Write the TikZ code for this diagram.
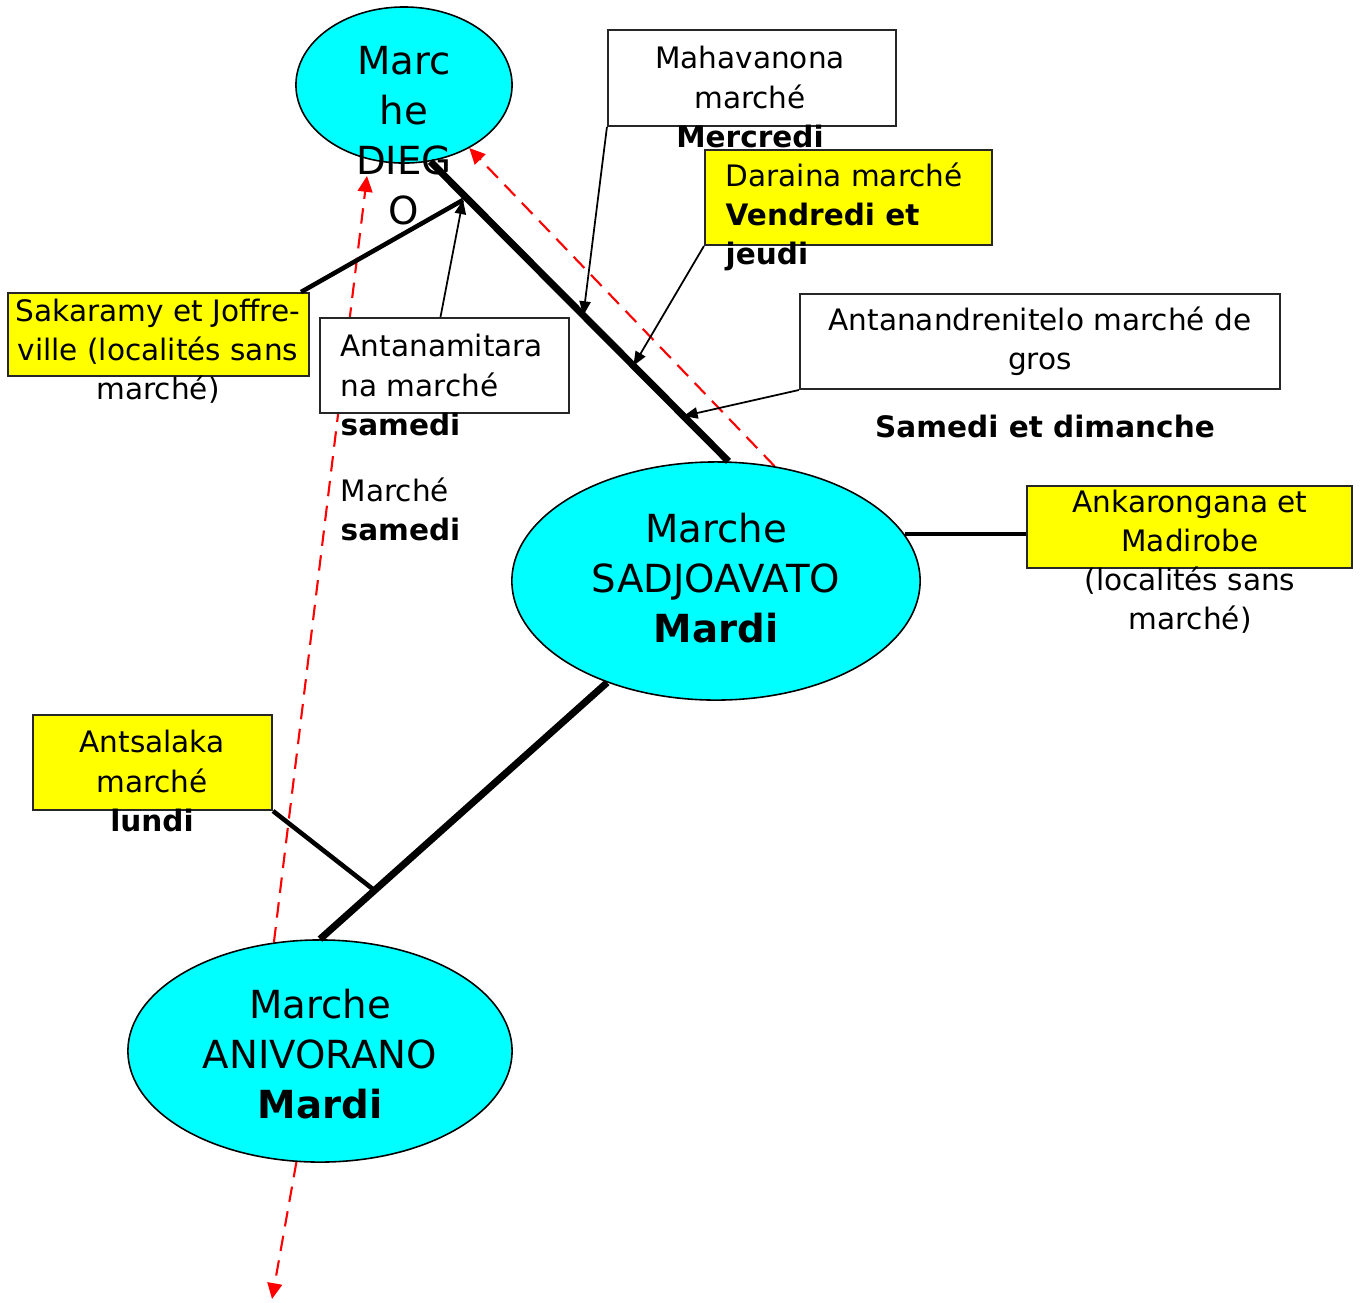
\documentclass[tikz,border=0pt]{standalone}
\usepackage{fontspec}
\setmainfont{DejaVu Sans}
\usetikzlibrary{arrows.meta,calc,shapes.geometric}
\definecolor{mktcyan}{HTML}{00FFFF}
\definecolor{tagyellow}{HTML}{FFFF00}
\definecolor{tripred}{HTML}{FF0000}
\pgfdeclarelayer{bg}
\pgfsetlayers{bg,main}

\begin{document}
\begin{tikzpicture}[
  x=0.01cm, y=-0.01cm,
  mkt/.style={ellipse, draw=black, fill=mktcyan, line width=0.45pt, inner sep=0},
  mtxt/.style={font=\fontsize{11}{14.2}\selectfont, align=center, inner sep=0},
  wbox/.style={rectangle, draw=black!85, fill=white, line width=0.55pt, inner sep=0},
  ybox/.style={wbox, fill=tagyellow},
  btxt/.style={font=\fontsize{8.4}{11.1}\selectfont, align=center, inner sep=0},
  road/.style={line width=2pt},
  spur/.style={line width=1.3pt},
  ptr/.style={-{Triangle[length=4pt, width=3.2pt]}, line width=0.5pt},
  trip/.style={-{Triangle[length=4.5pt, width=4.2pt]}, tripred, line width=0.6pt,
               dash pattern=on 4.4pt off 2.7pt},
]
\useasboundingbox (0,0) rectangle (1363,1302);

% ---- markets ----
\node[mkt, minimum width=2.16cm, minimum height=1.56cm] (diego) at (404,85) {};
\node[mkt, minimum width=4.08cm, minimum height=2.38cm] (sadj) at (716,581) {};
\node[mkt, minimum width=3.84cm, minimum height=2.22cm] (aniv) at (320,1051) {};
\node[mtxt] (diegotxt) at (404,136) {Marc\\he\\DIEG\\O};
\node[mtxt] (sadjtxt) at (716,578) {Marche\\SADJOAVATO\\\textbf{Mardi}};
\node[mtxt] (anivtxt) at (320,1054) {Marche\\ANIVORANO\\\textbf{Mardi}};

% ---- localities ----
\node[wbox, minimum width=2.88cm, minimum height=0.96cm] (maha) at (752,78) {};
\node[btxt] (mahatxt) at (750,97) {Mahavanona\\marché\\\textbf{Mercredi}};
\node[ybox, minimum width=2.87cm, minimum height=0.95cm] (dara) at (848.5,197.5) {};
\node[btxt, align=left, anchor=west] (daratxt) at (725,217) {Daraina marché\\\textbf{Vendredi et}\\\textbf{jeudi}};
\node[wbox, minimum width=4.80cm, minimum height=0.95cm] (gros) at (1040,341.5) {};
\node[btxt] (grostxt) at (1040,341) {Antanandrenitelo marché de\\gros};
\node[btxt, font=\fontsize{8.4}{11.1}\selectfont\bfseries] (grosday) at (1045,426) {Samedi et dimanche};
\node[ybox, minimum width=3.01cm, minimum height=0.83cm] (sak) at (158.5,334.5) {};
\node[btxt] (saktxt) at (158,351) {Sakaramy et Joffre-\\ville (localités sans\\marché)};
\node[wbox, minimum width=2.49cm, minimum height=0.95cm] (anta) at (444.5,365.5) {};
\node[btxt, align=left, anchor=west] (antatxt) at (340,385) {Antanamitara\\na marché\\\textbf{samedi}};
\node[btxt, align=left, anchor=west] (sattxt) at (340,509) {Marché\\\textbf{samedi}};
\node[ybox, minimum width=3.25cm, minimum height=0.82cm] (ank) at (1189.5,527) {};
\node[btxt] (anktxt) at (1190,562) {Ankarongana et\\Madirobe\\(localités sans\\marché)};
\node[ybox, minimum width=2.39cm, minimum height=0.95cm] (ants) at (152.5,762.5) {};
\node[btxt] (antstxt) at (152,781) {Antsalaka\\marché\\\textbf{lundi}};

% ---- roads ----
\coordinate (hub) at (463,200);
\draw[road] (diego.-71) -- (sadj.84);
\draw[road] (sadj.-137) -- (aniv.north);
\draw[spur] ([xshift=-0.09cm]sak.north east) -- (hub);
\draw[ptr] ([xshift=-0.04cm]anta.north) -- (hub);
\draw[ptr] (maha.south west) -- ($(diego.-71)!0.513!(sadj.84)$);
\draw[ptr] (dara.south west) -- ($(diego.-71)!0.681!(sadj.84)$);
\draw[ptr] (gros.south west) -- ($(diego.-71)!0.849!(sadj.84)$);
\draw[spur] (ants.south east) -- ($(sadj.-137)!0.81!(aniv.north)$);
\draw[spur] (sadj.14) -- (sadj.14 -| ank.west);

% ---- red dashed flows ----
\coordinate (dgtip) at (367,176);
\coordinate (exit) at (272,1299);
\begin{pgfonlayer}{bg}
\draw[trip] (aniv.113) -- (dgtip);
\draw[trip] (aniv.-102) -- (exit);
\draw[trip] (sadj.63) -- (diego.-44);
\end{pgfonlayer}

\end{tikzpicture}
\end{document}
